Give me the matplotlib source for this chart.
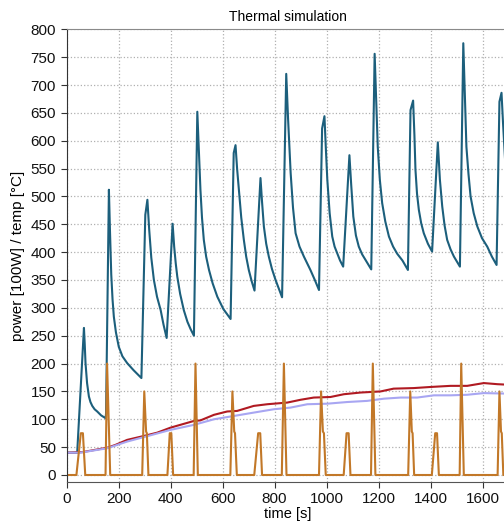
import numpy as np
import matplotlib
matplotlib.use('Agg')
import matplotlib.pyplot as plt

plt.rcParams['font.family'] = ['Liberation Sans', 'DejaVu Sans']

# teal: hotspot temperature (time [s], value)
t_hot = [0, 41, 67, 70, 73, 79, 86, 92, 99, 108, 118, 133, 150,
         152, 163, 167, 172, 177, 182, 190, 201, 215, 233, 258, 288,
         303, 311, 318, 326, 336, 348, 362, 373, 385,
         408, 414, 420, 426, 437, 451, 465, 477, 490,
         503, 509, 515, 521, 528, 537, 548, 562, 580, 603, 631,
         643, 650, 656, 663, 672, 682, 691, 701, 712, 723,
         746, 752, 759, 768, 778, 790, 804, 829,
         845, 852, 862, 871, 881, 896, 913, 938, 955, 971,
         983, 992, 997, 1003, 1012, 1022, 1031, 1041, 1052, 1064,
         1088, 1095, 1103, 1113, 1124, 1137, 1150, 1172,
         1185, 1191, 1197, 1205, 1214, 1226, 1240, 1256, 1272, 1292, 1313,
         1323, 1333, 1338, 1342, 1348, 1355, 1364, 1374, 1390, 1406,
         1428, 1436, 1445, 1454, 1464, 1477, 1490, 1513,
         1526, 1532, 1538, 1546, 1554, 1566, 1580, 1598, 1618, 1636, 1654,
         1665, 1673, 1679, 1685, 1692, 1700]
v_hot = [40, 40, 264, 235, 201, 165, 141, 131, 124, 118, 114, 107, 102,
         110, 512, 440, 360, 315, 284, 256, 230, 213, 201, 188, 174,
         467, 494, 440, 390, 350, 320, 296, 270, 246,
         451, 410, 380, 356, 325, 296, 275, 262, 250,
         652, 580, 512, 462, 422, 392, 368, 344, 320, 298, 280,
         578, 592, 550, 512, 462, 422, 392, 368, 348, 331,
         533, 490, 446, 415, 392, 370, 350, 319,
         720, 640, 542, 480, 434, 410, 392, 368, 350, 332,
         622, 644, 590, 530, 470, 428, 410, 398, 385, 374,
         574, 520, 464, 430, 410, 396, 386, 369,
         756, 670, 589, 530, 488, 455, 428, 410, 397, 385, 368,
         655, 672, 610, 548, 505, 476, 452, 434, 415, 401,
         597, 530, 482, 448, 422, 405, 392, 374,
         775, 680, 589, 540, 500, 470, 446, 425, 410, 392, 377,
         670, 686, 630, 578, 530, 495]

# orange: power [100W]
t_pow = [0, 38, 55, 63, 72, 150, 156, 168, 291, 299, 306, 309, 315,
         388, 397, 403, 410, 489, 496, 505, 630, 638, 645, 648, 655,
         722, 737, 745, 752, 828, 836, 846, 971, 979, 986, 990, 997,
         1066, 1077, 1085, 1092, 1171, 1178, 1188, 1314, 1322, 1328, 1331, 1337,
         1405, 1418, 1425, 1432, 1512, 1518, 1528, 1658, 1665, 1671, 1674, 1680, 1700]
v_pow = [0, 0, 75, 75, 0, 0, 200, 0, 0, 150, 78, 75, 0,
         0, 75, 75, 0, 0, 200, 0, 0, 150, 78, 75, 0,
         0, 75, 75, 0, 0, 200, 0, 0, 150, 78, 75, 0,
         0, 75, 75, 0, 0, 200, 0, 0, 150, 78, 75, 0,
         0, 75, 75, 0, 0, 200, 0, 0, 150, 78, 75, 0, 0]

# dark red: case temperature
t_red = [0, 60, 157, 188, 233, 297, 349, 400, 490, 515, 567, 618, 656, 720,
         772, 849, 900, 951, 1015, 1067, 1131, 1208, 1258, 1335, 1400, 1477,
         1541, 1605, 1657, 1700]
v_red = [40, 41, 49, 54, 63, 70, 76, 85, 97, 98, 108, 114, 115, 124,
         127, 130, 135, 139, 140, 145, 148, 150, 155, 156, 158, 160,
         160, 165, 163, 162]

# lavender: heatsink temperature
t_lav = [0, 51, 157, 233, 297, 400, 490, 567, 644, 720, 797, 862, 926, 1003,
         1080, 1156, 1221, 1285, 1349, 1413, 1477, 1541, 1605, 1700]
v_lav = [40, 40, 48, 60, 68, 81, 90, 100, 106, 112, 118, 121, 127, 128,
         131, 133, 137, 139, 139, 143, 143, 144, 147, 146]

fig = plt.figure(figsize=(5.04, 5.23), dpi=100)
ax = fig.add_axes([0.132, 0.079, 0.877, 0.865])

ax.plot(t_hot, v_hot, color='#1c5f7c', lw=1.5)
ax.plot(t_red, v_red, color='#b01a22', lw=1.5)
ax.plot(t_lav, v_lav, color='#a8a6f2', lw=1.5)
ax.plot(t_pow, v_pow, color='#c27828', lw=1.5)

ax.set_xlim(0, 1700)
ax.set_ylim(-12, 800)
ax.set_xticks(np.arange(0, 1700, 200))
ax.set_yticks(np.arange(0, 801, 50))
ax.grid(True, linestyle=':', color='#b0b0b0', lw=0.9)

ax.spines['right'].set_visible(False)
ax.spines['top'].set_color('#8a8a8a')
ax.spines['left'].set_color('#333333')
ax.spines['bottom'].set_color('#555555')
ax.tick_params(direction='out', length=4, labelsize=11, colors='#333333',
               labelcolor='#111111')

ax.set_title('Thermal simulation', fontsize=10)
ax.set_xlabel('time [s]', fontsize=10.5, labelpad=1)
ax.set_ylabel('power [100W] / temp [°C]', fontsize=11, labelpad=4)

fig.savefig('out.png', dpi=100)
